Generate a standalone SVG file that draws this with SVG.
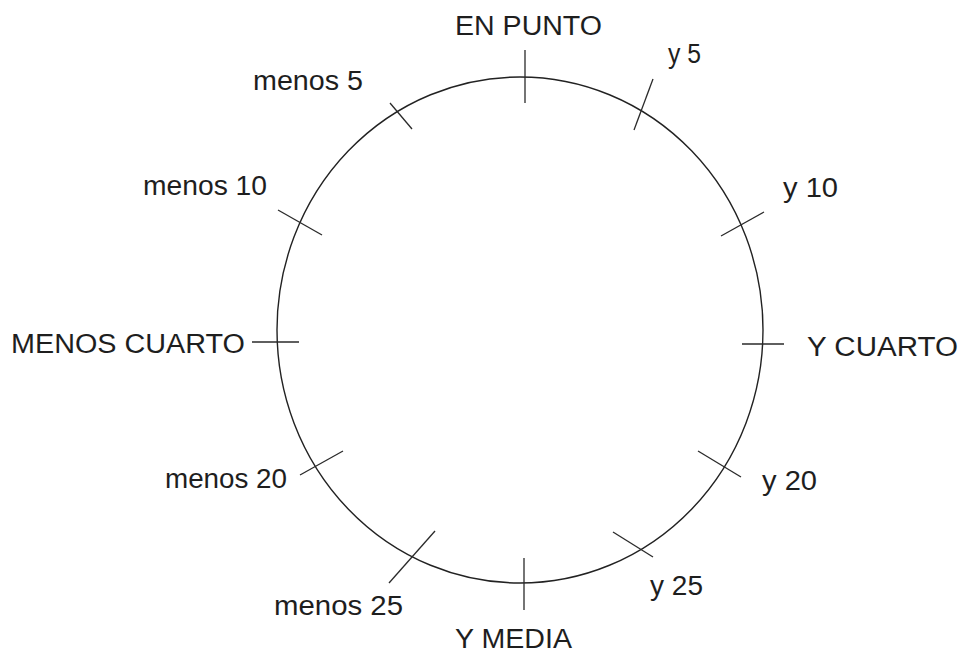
<svg xmlns="http://www.w3.org/2000/svg" width="965" height="656" viewBox="0 0 965 656">
<style>
.lbl{font-family:"Liberation Sans",Arial,sans-serif;font-size:27px;fill:#1e1e1e}
.tick{stroke:#2a2a2a;stroke-width:1.3;fill:none}
.dial{stroke:#222;stroke-width:1.4;fill:none}
</style>
<rect width="965" height="656" fill="#fff"/>
<g id="dial">
<ellipse class="dial" cx="520" cy="330" rx="243" ry="253"/>
</g>
<g id="ticks">
<line class="tick" x1="525" y1="50" x2="525" y2="103"/>
<line class="tick" x1="524" y1="558" x2="524" y2="610"/>
<line class="tick" x1="252" y1="342" x2="299" y2="342"/>
<line class="tick" x1="742" y1="344" x2="784" y2="344"/>
<line class="tick" x1="390" y1="103" x2="412" y2="129"/>
<line class="tick" x1="278" y1="210" x2="322" y2="235"/>
<line class="tick" x1="653" y1="79" x2="634" y2="130"/>
<line class="tick" x1="764" y1="212" x2="721" y2="236"/>
<line class="tick" x1="343" y1="451" x2="300" y2="475"/>
<line class="tick" x1="435" y1="531" x2="389" y2="583"/>
<line class="tick" x1="698" y1="451" x2="741" y2="477"/>
<line class="tick" x1="613" y1="532" x2="653" y2="557"/>
</g>
<g id="en-punto"><text class="lbl" x="455" y="35" textLength="147" lengthAdjust="spacingAndGlyphs">EN PUNTO</text></g>
<g id="y5"><text class="lbl" x="668" y="63" textLength="33" lengthAdjust="spacingAndGlyphs">y 5</text></g>
<g id="menos5"><text class="lbl" x="253" y="90" textLength="110" lengthAdjust="spacingAndGlyphs">menos 5</text></g>
<g id="menos10"><text class="lbl" x="143" y="195" textLength="124" lengthAdjust="spacingAndGlyphs">menos 10</text></g>
<g id="y10"><text class="lbl" x="783" y="197" textLength="55" lengthAdjust="spacingAndGlyphs">y 10</text></g>
<g id="menos-cuarto"><text class="lbl" x="11" y="353" textLength="234" lengthAdjust="spacingAndGlyphs">MENOS CUARTO</text></g>
<g id="y-cuarto"><text class="lbl" x="807" y="356" textLength="151" lengthAdjust="spacingAndGlyphs">Y CUARTO</text></g>
<g id="menos20"><text class="lbl" x="165" y="488" textLength="122" lengthAdjust="spacingAndGlyphs">menos 20</text></g>
<g id="y20"><text class="lbl" x="762" y="490" textLength="55" lengthAdjust="spacingAndGlyphs">y 20</text></g>
<g id="menos25"><text class="lbl" x="274" y="615" textLength="129" lengthAdjust="spacingAndGlyphs">menos 25</text></g>
<g id="y25"><text class="lbl" x="650" y="595" textLength="53" lengthAdjust="spacingAndGlyphs">y 25</text></g>
<g id="y-media"><text class="lbl" x="455" y="648" textLength="117" lengthAdjust="spacingAndGlyphs">Y MEDIA</text></g>
</svg>
